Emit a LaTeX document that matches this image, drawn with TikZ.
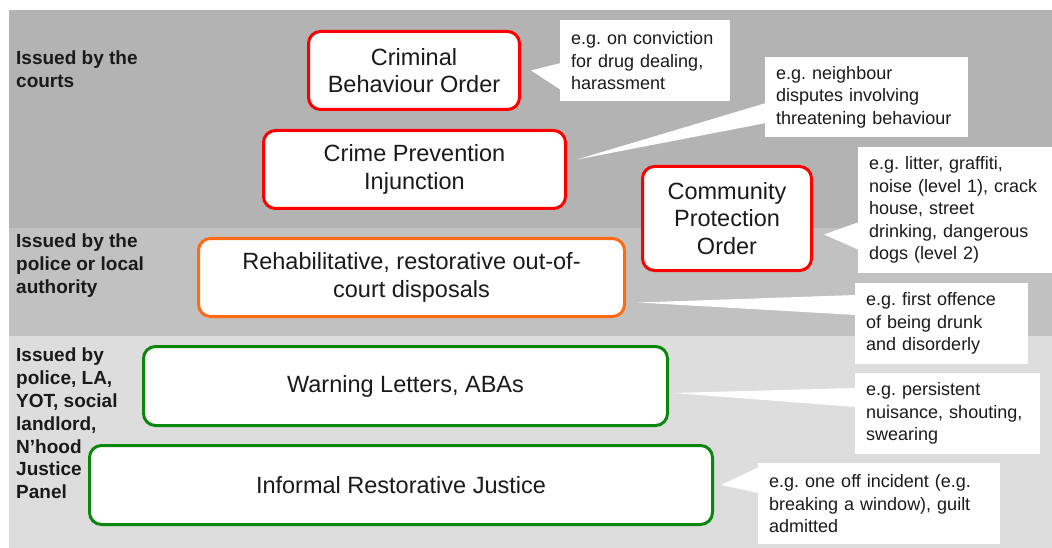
\documentclass[tikz,border=0pt]{standalone}
\usepackage{fontspec}
\setmainfont{Liberation Sans}
\usetikzlibrary{calc}
\definecolor{bandA}{HTML}{B3B3B3}
\definecolor{bandB}{HTML}{C1C1C1}
\definecolor{bandC}{HTML}{DDDDDD}
\definecolor{cred}{HTML}{FF0000}
\definecolor{corange}{HTML}{FF6A13}
\definecolor{cgreen}{HTML}{0B870B}
\definecolor{txt}{HTML}{1A1A1A}
\tikzset{
  box/.style={draw, line width=3pt, rounded corners=12pt, fill=white, align=center,
    font=\fontsize{23.5}{27.5}\selectfont, text=txt, inner sep=0pt},
  callout/.style={fill=white, anchor=north west, align=left, inner xsep=11pt, inner ysep=0pt,
    font=\fontsize{18}{22.5}\selectfont, text=txt,
    execute at begin node={\frenchspacing\hyphenpenalty=10000\exhyphenpenalty=10000}},
  side/.style={anchor=north west, align=left, inner sep=0pt,
    font=\bfseries\fontsize{19}{22.8}\selectfont, text=txt},
  pointer/.style={fill=white}
}
\begin{document}
\begin{tikzpicture}[x=1pt,y=-1pt]
\useasboundingbox (0,0) rectangle (1052,548);
\fill[white] (0,0) rectangle (1052,548);
% bands
\fill[bandA] (9,10) rectangle (1052,228);
\fill[bandB] (9,228) rectangle (1052,336);
\fill[bandC] (9,336) rectangle (1052,548);
% side labels
\node[side] (l1) at (16,51) {Issued by the\\courts};
\node[side] (l2) at (16,234) {Issued by the\\police or local\\authority};
\node[side] (l3) at (16,348) {Issued by\\police, LA,\\YOT, social\\landlord,\\N’hood\\Justice\\Panel};
% callouts
\node[callout, text width=148pt, minimum height=81pt] (c1) at (560,20) {e.g. on conviction\\for drug dealing,\\harassment};
\node[callout, text width=181pt, minimum height=80pt] (c2) at (765,57) {e.g. neighbour\\disputes involving\\threatening behaviour};
\node[callout, text width=172pt, minimum height=126pt] (c3) at (858,147) {e.g. litter, graffiti,\\noise (level 1), crack\\house, street\\drinking, dangerous\\dogs (level 2)};
\node[callout, text width=151pt, minimum height=81pt] (c4) at (855,283) {e.g. first offence\\of being drunk\\and disorderly};
\node[callout, text width=163pt, minimum height=81pt] (c5) at (855,373) {e.g. persistent\\nuisance, shouting,\\swearing};
\node[callout, text width=220pt, minimum height=81pt] (c6) at (758,463) {e.g. one off incident (e.g.\\breaking a window), guilt\\admitted};
% boxes
\node[box, draw=cred, minimum width=211pt, minimum height=78pt] (cbo) at (414,70.5) {Criminal\\Behaviour Order};
\node[box, draw=cred, minimum width=302pt, minimum height=78pt] (cpi) at (414.5,169.5) {Crime Prevention\\Injunction};
\node[box, draw=cred, minimum width=169pt, minimum height=104pt] (cpo) at (727,218.5) {Community\\Protection\\Order};
\node[box, draw=corange, minimum width=426pt, minimum height=78pt] (rehab) at (411.5,277.5) {Rehabilitative, restorative out-of-\\court disposals};
\node[box, draw=cgreen, minimum width=524pt, minimum height=79pt] (warn) at (405.5,386) {Warning Letters, ABAs};
\node[box, draw=cgreen, minimum width=623pt, minimum height=79pt] (irj) at (401,485) {Informal Restorative Justice};
% pointer tips
\coordinate (t1) at ($(cbo.east)+(10,0)$);
\coordinate (t2) at ($(cpi.east)+(10,-10)$);
\coordinate (t3) at ($(cpo.east)+(11,16)$);
\coordinate (t4) at ($(rehab.east)+(12,25)$);
\coordinate (t5) at ($(warn.east)+(4,7)$);
\coordinate (t6) at ($(irj.east)+(7,0)$);
% pointers
\fill[pointer] (t1) -- ($(c1.north west)+(1,43)$) -- ($(c1.north west)+(1,70)$) -- cycle;
\fill[pointer] (t2) -- ($(c2.north west)+(1,46)$) -- ($(c2.north west)+(1,66)$) -- cycle;
\fill[pointer] (t3) -- ($(c3.north west)+(1,75)$) -- ($(c3.north west)+(1,103)$) -- cycle;
\fill[pointer] (t4) -- ($(c4.north west)+(1,12)$) -- ($(c4.north west)+(1,32)$) -- cycle;
\fill[pointer] (t5) -- ($(c5.north west)+(1,15)$) -- ($(c5.north west)+(1,34)$) -- cycle;
\fill[pointer] (t6) -- ($(c6.north west)+(1,4)$) -- ($(c6.north west)+(1,30)$) -- cycle;
\end{tikzpicture}
\end{document}
